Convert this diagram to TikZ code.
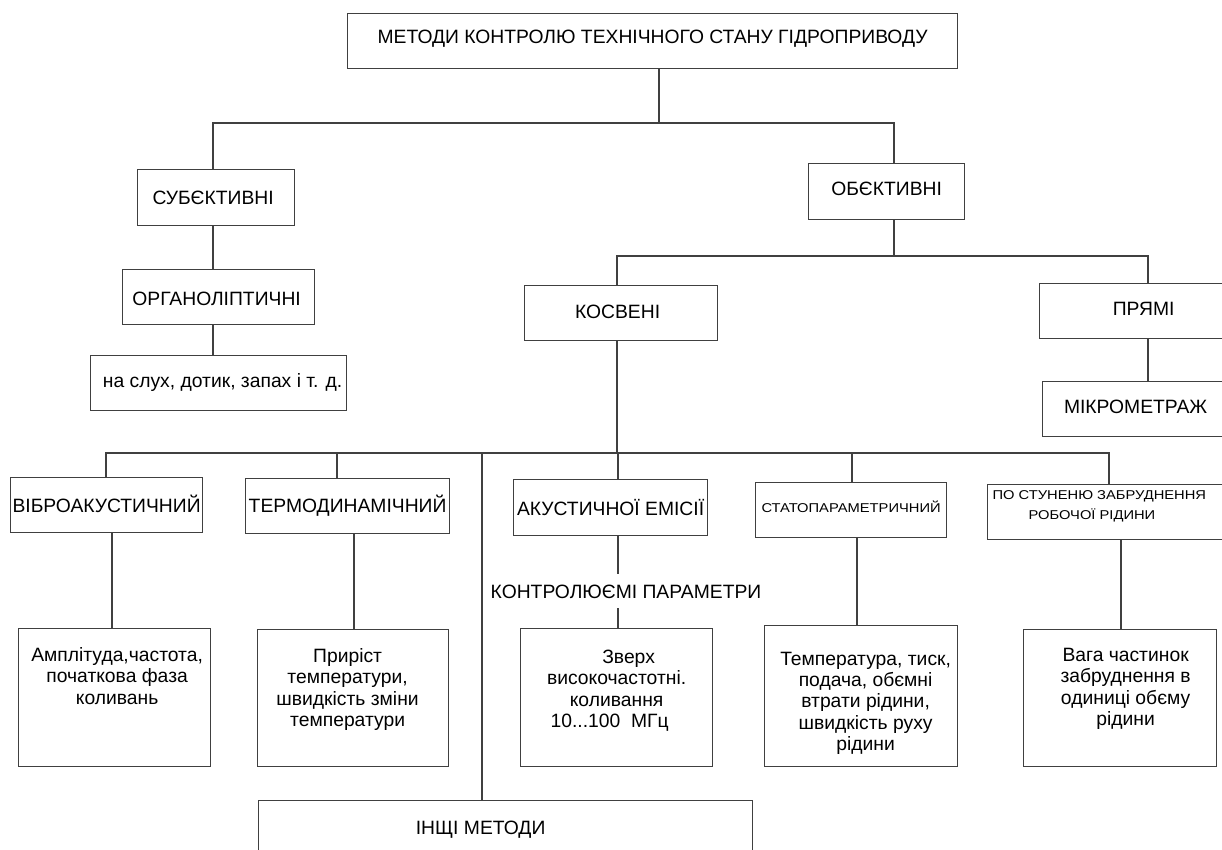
\documentclass[tikz,border=0pt]{standalone}
\usepackage{fontspec}
\setmainfont{Liberation Sans}
\newfontfamily\widesans[FakeStretch=1.15]{Liberation Sans}
\newcommand\bigfont{\fontsize{19.3}{21.3}\selectfont}
\newcommand\smallfnt{\widesans\fontsize{12.8}{20}\selectfont}
% #1 height, #2 width, #3 first baseline from top, #4 leftskip, #5 rightskip, #6 text
\newcommand\cellbox[6]{\parbox[c][#1pt][t]{#2pt}{\bigfont\centering\leftskip=#4pt plus 1fil\rightskip=#5pt plus 1fil\rule{0pt}{#3pt}#6}}
\definecolor{linegray}{HTML}{404040}
\begin{document}
\begin{tikzpicture}[x=1pt,y=-1pt,
  lbl/.style={draw=linegray, line width=1.2pt, inner sep=0pt, anchor=north west, font=\bigfont, text depth=0pt},
  cell/.style={draw=linegray, line width=1.2pt, inner sep=0pt, anchor=north west},
  conn/.style={draw=linegray, line width=1.2pt}]
\useasboundingbox (0,0) rectangle (1222,849);
\fill[white] (0,0) rectangle (1222,849);
\clip (0,0) rectangle (1222,849);

% ---- upper levels ----
\node[lbl, minimum width=610pt, minimum height=55pt, text height=5pt] (title) at (347,13) {МЕТОДИ КОНТРОЛЮ ТЕХНІЧНОГО СТАНУ ГІДРОПРИВОДУ};
\node[lbl, minimum width=157pt, minimum height=56pt, text height=14pt] (subj) at (137,169) {СУБЄКТИВНІ\hspace*{6pt}};
\node[lbl, minimum width=192pt, minimum height=55pt, text height=17pt] (organo) at (122,269) {ОРГАНОЛІПТИЧНІ\hspace*{4pt}};
\node[lbl, minimum width=256pt, minimum height=55pt, text height=9pt] (senses) at (90,355) {\hspace*{8pt}на слух, дотик, запах і т. д.};
\node[lbl, minimum width=156pt, minimum height=56pt, text height=8pt] (obj) at (808,163) {ОБЄКТИВНІ};
\node[lbl, minimum width=193pt, minimum height=55pt, text height=11pt] (kosv) at (524,285) {КОСВЕНІ\hspace*{7pt}};
\node[lbl, minimum width=208pt, minimum height=55pt, text height=9pt] (pryami) at (1039,283) {ПРЯМІ};
\node[lbl, minimum width=186pt, minimum height=55pt, text height=9pt] (micro) at (1042,381) {МІКРОМЕТРАЖ};

% ---- methods row ----
\node[lbl, minimum width=192pt, minimum height=55pt, text height=15pt] (vibro) at (10,477) {ВІБРОАКУСТИЧНИЙ};
\node[lbl, minimum width=204pt, minimum height=55pt, text height=13pt] (termo) at (245,478) {ТЕРМОДИНАМІЧНИЙ};
\node[lbl, minimum width=194pt, minimum height=56pt, text height=16pt] (acoust) at (513,479) {АКУСТИЧНОЇ ЕМІСІЇ};
\node[lbl, minimum width=191pt, minimum height=55pt, text height=5pt, font=\smallfnt] (stato) at (755,482) {СТАТОПАРАМЕТРИЧНИЙ};
\node[cell] (zabr) at (987,484) {\parbox[c][55pt][t]{258pt}{\smallfnt\raggedright\rule{0pt}{15pt}\hspace*{5pt}ПО СТУНЕНЮ ЗАБРУДНЕННЯ\\\hspace*{41pt}РОБОЧОЇ РІДИНИ}};

\node[inner sep=0pt, minimum height=34pt, text height=14pt, text depth=0pt, font=\bigfont] (kontr) at (626,591) {КОНТРОЛЮЄМІ ПАРАМЕТРИ};

% ---- parameter boxes ----
\node[cell] (ampl) at (18,628) {\cellbox{138}{192}{33}{5}{0}{Амплітуда,частота,\\початкова фаза\\коливань}};
\node[cell] (prir) at (257,629) {\cellbox{137}{191}{33}{0}{11}{Приріст\\температури,\\швидкість зміни\\температури}};
\node[cell] (zverh) at (520,628) {\cellbox{138}{192}{35}{0}{0}{\hspace*{24pt}Зверх\\високочастотні.\\коливання\hspace*{14pt}\\10...100\ \ МГц\hspace*{14pt}}};
\node[cell] (temp) at (764,625) {\cellbox{141}{193}{39.5}{9}{0}{Температура, тиск,\\подача, обємні\\втрати рідини,\\швидкість руху\\рідини}};
\node[cell] (vaga) at (1023,629) {\cellbox{137}{193}{32}{11}{0}{Вага частинок\\забруднення в\\одиниці обєму\\рідини}};

\node[lbl, minimum width=494pt, minimum height=100pt, text height=0pt, text depth=32pt] (other) at (258,800) {ІНЩІ МЕТОДИ\hspace*{50pt}};

% ---- connectors ----
\coordinate (j1) at (659,123);
\coordinate (sx) at (213,123);
\coordinate (ox) at (894,123);
\draw[conn] (title.south -| j1) -- (j1);
\draw[conn] (subj.north -| sx) -- (sx) -- (ox) -- (obj.north -| ox);
\draw[conn] (subj.south -| sx) -- (organo.north -| sx);
\draw[conn] (organo.south -| sx) -- (senses.north -| sx);

\coordinate (j2) at (894,256);
\coordinate (kx) at (617,256);
\coordinate (px) at (1148,256);
\draw[conn] (obj.south -| j2) -- (j2);
\draw[conn] (kosv.north -| kx) -- (kx) -- (px) -- (pryami.north -| px);
\draw[conn] (pryami.south -| px) -- (micro.north -| px);

\coordinate (j3) at (617,453);
\coordinate (b1) at (106,453);
\coordinate (b2) at (337,453);
\coordinate (b3) at (482,453);
\coordinate (b4) at (618,453);
\coordinate (b5) at (852,453);
\coordinate (b6) at (1109,453);
\draw[conn] (kosv.south -| j3) -- (j3);
\draw[conn] (vibro.north -| b1) -- (b1) -- (b6) -- (zabr.north -| b6);
\draw[conn] (b2) -- (termo.north -| b2);
\draw[conn] (b3) -- (other.north -| b3);
\draw[conn] (b4) -- (acoust.north -| b4);
\draw[conn] (b5) -- (stato.north -| b5);

\coordinate (c1) at (112,600);
\coordinate (c2) at (354,600);
\coordinate (c4) at (618,600);
\coordinate (c5) at (857,600);
\coordinate (c6) at (1121,600);
\draw[conn] (vibro.south -| c1) -- (ampl.north -| c1);
\draw[conn] (termo.south -| c2) -- (prir.north -| c2);
\draw[conn] (acoust.south -| c4) -- (kontr.north -| c4);
\draw[conn] (kontr.south -| c4) -- (zverh.north -| c4);
\draw[conn] (stato.south -| c5) -- (temp.north -| c5);
\draw[conn] (zabr.south -| c6) -- (vaga.north -| c6);
\end{tikzpicture}
\end{document}
